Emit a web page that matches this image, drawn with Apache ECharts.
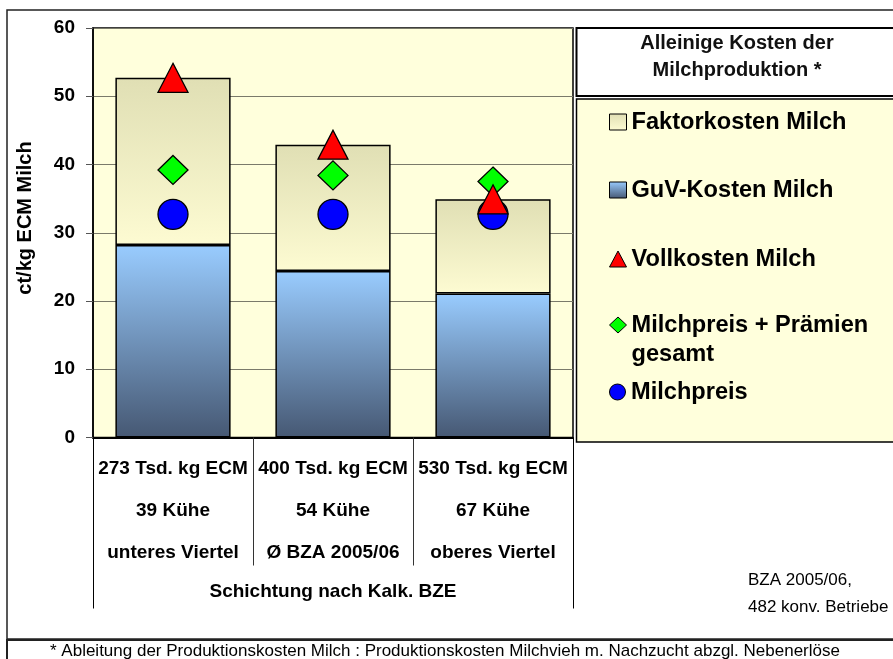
<!DOCTYPE html>
<html>
<head>
<meta charset="utf-8">
<script src="https://cdn.jsdelivr.net/npm/echarts@6/dist/echarts.min.js"></script>
<style>
  html, body { margin: 0; padding: 0; background: #fff; }
  #chart { width: 893px; height: 659px; }
</style>
</head>
<body>
<div id="chart"></div>
<script>
// Daten
const herdeGroesse = ['273 Tsd. kg ECM', '400 Tsd. kg ECM', '530 Tsd. kg ECM'];
const kuehe = ['39 Kühe', '54 Kühe', '67 Kühe'];
const schicht = ['unteres Viertel', 'Ø BZA 2005/06', 'oberes Viertel'];
const gruppe = ['Schichtung nach Kalk. BZE'];
const guvKosten = [28.2, 24.4, 21.1];
const faktorKosten = [24.5, 18.5, 13.8];
const vollKosten = [52.7, 42.9, 34.9];
const preisPraemien = [39.2, 38.4, 37.5];
const milchPreis = [32.7, 32.7, 32.7];

const FONT = '"Liberation Sans", Arial, sans-serif';
const categories = herdeGroesse.map((h, i) => h + '\n' + kuehe[i] + '\n' + schicht[i]);

const myChart = echarts.init(document.getElementById('chart'), null, { renderer: 'canvas' });

// eine Legende je Eintrag, damit die Abstände wie im Original sitzen
const legendItem = (name, icon, centerY, label) => {
  const lines = label ? label.split('\n').length : 1;
  const lh = 29;
  return {
    left: 609,
    top: centerY - (lines * lh) / 2 + 2,
    padding: 0,
    orient: 'vertical',
    data: [name],
    icon: icon,
    itemWidth: 17,
    itemHeight: 16,
    selectedMode: false,
    formatter: label ? () => label : undefined,
    textStyle: {
      fontFamily: FONT, fontSize: 23.6, fontWeight: 'bold', color: '#000', lineHeight: lh
    },
    itemStyle: { borderColor: '#000', borderWidth: 1 }
  };
};

const option = {
  animation: false,
  backgroundColor: '#fff',
  grid: {
    left: 93, top: 28, width: 480, height: 409.5,
    show: true, backgroundColor: '#FFFFDC', borderColor: '#000', borderWidth: 1.5
  },
  legend: [
    legendItem('Faktorkosten Milch', 'rect', 120),
    legendItem('GuV-Kosten Milch', 'rect', 188),
    legendItem('Vollkosten Milch', 'triangle', 257),
    legendItem('Milchpreis + Prämien gesamt', 'diamond', 323, '\u00a0\nMilchpreis + Prämien\ngesamt'),
    legendItem('Milchpreis', 'circle', 390)
  ],
  xAxis: [
    {
      type: 'category',
      data: categories,
      axisLine: { show: true, lineStyle: { color: '#000', width: 2 } },
      axisTick: { show: true, length: 128, lineStyle: { color: '#333', width: 1 } },
      axisLabel: {
        interval: 0, margin: 10, color: '#000',
        fontFamily: FONT, fontSize: 19, fontWeight: 'bold', lineHeight: 42
      },
      splitLine: { show: false }
    },
    {
      type: 'category',
      data: gruppe,
      position: 'bottom',
      axisLine: { show: false },
      axisTick: { show: true, length: 171, lineStyle: { color: '#000', width: 1 } },
      axisLabel: {
        margin: 145, color: '#000',
        fontFamily: FONT, fontSize: 19, fontWeight: 'bold'
      },
      splitLine: { show: false }
    }
  ],
  yAxis: {
    type: 'value',
    min: 0, max: 60, interval: 10,
    axisLine: { show: true, lineStyle: { color: '#000', width: 1.5 } },
    axisTick: { show: true, inside: false, length: 7, lineStyle: { color: '#555', width: 1 } },
    axisLabel: { margin: 18, color: '#000', fontFamily: FONT, fontSize: 19, fontWeight: 'bold' },
    splitLine: { show: true, lineStyle: { color: '#7a7a6a', width: 1.2 } }
  },
  series: [
    {
      name: 'GuV-Kosten Milch',
      type: 'bar',
      stack: 'kosten',
      barWidth: '72%',
      data: guvKosten,
      itemStyle: {
        color: new echarts.graphic.LinearGradient(0, 0, 0, 1, [
          { offset: 0, color: '#99CCFF' },
          { offset: 1, color: '#465873' }
        ]),
        borderColor: '#000', borderWidth: 1.5
      }
    },
    {
      name: 'Faktorkosten Milch',
      type: 'bar',
      stack: 'kosten',
      barWidth: '72%',
      data: faktorKosten,
      itemStyle: {
        color: new echarts.graphic.LinearGradient(0, 0, 0, 1, [
          { offset: 0, color: '#E0DFB4' },
          { offset: 1, color: '#FDFBD2' }
        ]),
        borderColor: '#000', borderWidth: 1.5
      }
    },
    {
      name: 'Milchpreis + Prämien gesamt',
      type: 'scatter',
      symbol: 'diamond',
      symbolSize: [30, 29],
      data: preisPraemien,
      z: 3,
      itemStyle: { color: '#00FF00', borderColor: '#000', borderWidth: 1.3, opacity: 1 }
    },
    {
      name: 'Milchpreis',
      type: 'scatter',
      symbol: 'circle',
      symbolSize: 30,
      data: milchPreis,
      z: 4,
      itemStyle: { color: '#0000FF', borderColor: '#000', borderWidth: 1.3, opacity: 1 }
    },
    {
      name: 'Vollkosten Milch',
      type: 'scatter',
      symbol: 'triangle',
      symbolSize: [30, 29],
      data: vollKosten,
      z: 5,
      itemStyle: { color: '#FF0000', borderColor: '#000', borderWidth: 1.3, opacity: 1 }
    }
  ],
  graphic: [
    // Rahmen
    { type: 'rect', z: -10, shape: { x: 7, y: 10, width: 900, height: 629 },
      style: { fill: 'none', stroke: '#222', lineWidth: 1.5 } },
    { type: 'rect', z: -10, shape: { x: 7, y: 640, width: 900, height: 40 },
      style: { fill: '#fff', stroke: '#222', lineWidth: 2 } },
    { type: 'text', z: 10, x: 50, y: 643,
      style: { text: '* Ableitung der Produktionskosten Milch : Produktionskosten Milchvieh m. Nachzucht abzgl. Nebenerlöse',
        font: '17px ' + FONT, fill: '#000', verticalAlign: 'top' } },
    // Legendenkopf
    { type: 'rect', z: 1, shape: { x: 576.5, y: 28, width: 330, height: 68 },
      style: { fill: '#fff', stroke: '#000', lineWidth: 2 } },
    { type: 'text', z: 2, x: 737, y: 57,
      style: { text: 'Alleinige Kosten der\nMilchproduktion *', font: 'bold 20px ' + FONT,
        lineHeight: 27, fill: '#111', align: 'center', verticalAlign: 'middle' } },
    { type: 'rect', z: 1, shape: { x: 576.5, y: 99, width: 330, height: 343 },
      style: { fill: '#FFFFDC', stroke: '#000', lineWidth: 1.5 } },
    // Achsentitel
    { type: 'text', z: 2, x: 25, y: 218, rotation: Math.PI / 2,
      style: { text: 'ct/kg ECM Milch', font: 'bold 20px ' + FONT, fill: '#000',
        align: 'center', verticalAlign: 'middle' } },
    // Quelle
    { type: 'text', z: 2, x: 748, y: 594,
      style: { text: 'BZA 2005/06,\n482 konv. Betriebe', font: '17px ' + FONT, lineHeight: 27,
        fill: '#000', align: 'left', verticalAlign: 'middle' } }
  ]
};

myChart.setOption(option);
</script>
</body>
</html>
